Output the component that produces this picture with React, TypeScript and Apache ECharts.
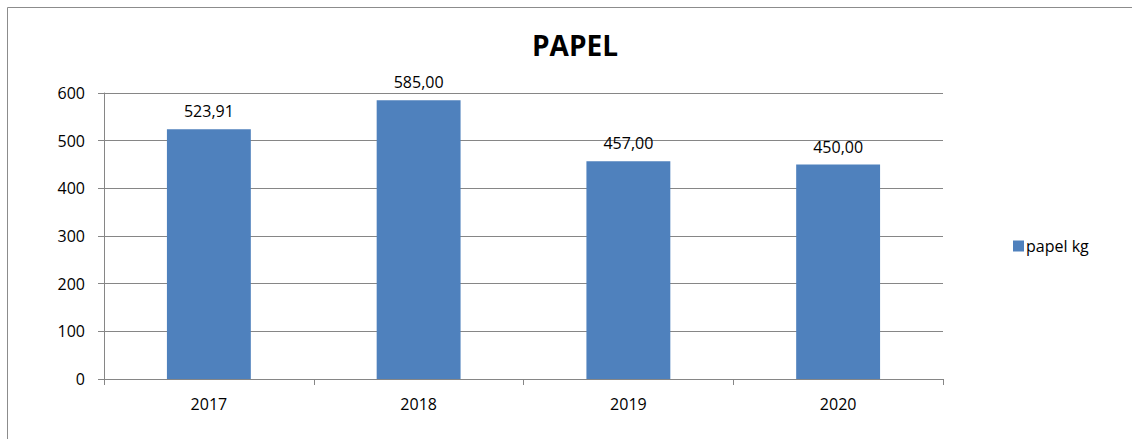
import React, { useEffect, useRef } from "react";
import * as echarts from "echarts";

const categories = ["2017", "2018", "2019", "2020"];
const values = [523.91, 585.0, 457.0, 450.0];
const seriesName = "papel kg";
const titleText = "PAPEL";

export default function App() {
  const ref = useRef<HTMLDivElement>(null);
  useEffect(() => {
    if (!ref.current) return;
    const chart = echarts.init(ref.current, null, { renderer: "svg" });
    const font = "'Open Sans', sans-serif";
    chart.setOption({
      animation: false,
      textStyle: { fontFamily: font },
      title: {
        text: titleText,
        left: 570,
        top: 26,
        textAlign: "center",
        textStyle: { fontSize: 28, fontWeight: "bold", color: "#000", fontFamily: font },
      },
      legend: {
        data: [seriesName],
        left: 1008,
        top: 233,
        itemWidth: 11,
        itemHeight: 11,
        itemGap: 5,
        icon: "rect",
        textStyle: { fontSize: 16, color: "#000", fontFamily: font, padding: [0, 0, 0, -3] },
      },
      graphic: [
        {
          type: "rect",
          shape: { x: 7.5, y: 7.5, width: 1130, height: 440 },
          style: { fill: "none", stroke: "#8c8c8c", lineWidth: 1 },
          silent: true,
        },
      ],
      grid: { left: 104, top: 93, right: 189, bottom: 60, containLabel: false },
      xAxis: {
        type: "category",
        data: categories,
        axisLine: { show: true, lineStyle: { color: "#868686", width: 1 } },
        axisTick: { show: true, length: 6, lineStyle: { color: "#868686" } },
        axisLabel: { fontSize: 16, color: "#000", margin: 17, fontFamily: font },
      },
      yAxis: {
        type: "value",
        min: 0,
        max: 600,
        interval: 100,
        axisLine: { show: true, lineStyle: { color: "#868686", width: 1 } },
        axisTick: { show: true, length: 6, lineStyle: { color: "#868686" } },
        axisLabel: { fontSize: 16, color: "#000", margin: 19, fontFamily: font },
        splitLine: { show: true, lineStyle: { color: "#868686", width: 1 } },
      },
      series: [
        {
          name: seriesName,
          type: "bar",
          data: values,
          barCategoryGap: "60%",
          itemStyle: { color: "#4F81BD" },
          label: {
            show: true,
            position: "top",
            distance: 10,
            fontSize: 16,
            color: "#000",
            fontFamily: font,
            formatter: (p: any) => Number(p.value).toFixed(2).replace(".", ","),
          },
        },
      ],
    });
    return () => chart.dispose();
  }, []);
  return (
    <div
      ref={ref}
      style={{ position: "fixed", left: 0, top: 0, width: 1132, height: 439, background: "#fff" }}
    />
  );
}
